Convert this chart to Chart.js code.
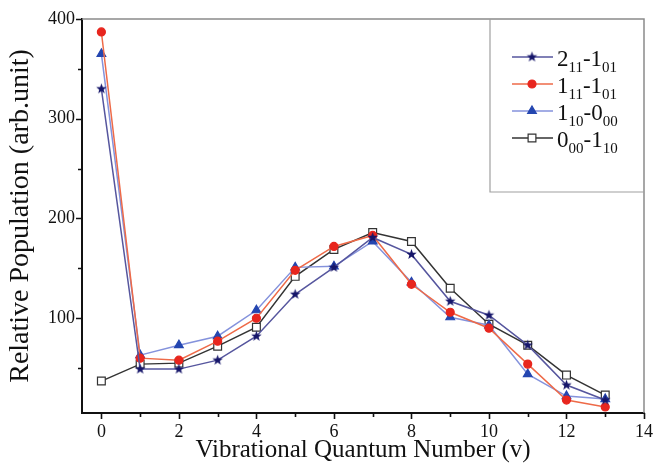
<!DOCTYPE html>
<html>
<head>
<meta charset="utf-8">
<script src="https://cdn.jsdelivr.net/npm/chart.js"></script>
<style>
  html, body { margin: 0; padding: 0; background: #fff; }
  #wrap { width: 655px; height: 463px; }
</style>
</head>
<body>
<div id="wrap"><canvas id="popChart" width="655" height="463"></canvas></div>
<script>
// vibrational quantum numbers
var levels = [0, 1, 2, 3, 4, 5, 6, 7, 8, 9, 10, 11, 12, 13];

// relative populations
var pop211_101 = [330, 49, 49, 58, 82, 124, 151, 181, 164, 117, 103, 73, 33, 18];
var pop111_101 = [387, 60, 58, 77, 100, 148, 172, 183, 134, 106, 90, 54, 18, 11];
var pop110_000 = [365, 63, 73, 82, 108, 151, 152, 177, 136, 101, 93, 44, 22, 19];
var pop000_110 = [37, 54, 55, 72, 91, 142, 169, 186, 177, 130, 94, 73, 43, 23];

// legend labels: alternating normal / subscript parts
var labelParts = [
    ['2', '11', '-1', '01'],
    ['1', '11', '-1', '01'],
    ['1', '10', '-0', '00'],
    ['0', '00', '-1', '10']
];

var xTicks = [0, 1, 2, 3, 4, 5, 6, 7, 8, 9, 10, 11, 12, 13, 14];
var yTicks = [50, 100, 150, 200, 250, 300, 350, 400];

var SERIF = '"Liberation Serif", "DejaVu Serif", serif';

function starImage(r, color) {
    var c = document.createElement('canvas');
    var s = Math.ceil(r * 2 + 2);
    c.width = s; c.height = s;
    var g = c.getContext('2d');
    g.fillStyle = color;
    g.beginPath();
    for (var i = 0; i < 10; i++) {
        var rad = i % 2 === 0 ? r : r * 0.42;
        var a = -Math.PI / 2 + i * Math.PI / 5;
        var px = s / 2 + rad * Math.cos(a), py = s / 2 + rad * Math.sin(a);
        if (i === 0) g.moveTo(px, py); else g.lineTo(px, py);
    }
    g.closePath();
    g.fill();
    return c;
}
var starPt = starImage(5.5, '#16166a');

function series(label, data, line, style, radius, fill, border) {
    return {
        label: label,
        data: levels.map(function (v, i) { return { x: v, y: data[i] }; }),
        borderColor: line,
        borderWidth: 1.5,
        pointStyle: style,
        pointRadius: radius,
        pointBackgroundColor: fill,
        pointBorderColor: border,
        pointBorderWidth: 1.2,
        tension: 0
    };
}

var datasets = [
    series('2_11-1_01', pop211_101, '#56569e', starPt, 5.5, '#16166a', '#16166a'),
    series('1_11-1_01', pop111_101, '#ee6a48', 'circle', 4, '#e8261e', '#e8261e'),
    series('1_10-0_00', pop110_000, '#8492dc', 'triangle', 5, '#2446b0', '#2446b0'),
    series('0_00-1_10', pop000_110, '#333333', 'rect', 5.5, '#ffffff', '#333333')
];

var frameAndLegend = {
    id: 'frameAndLegend',
    afterDraw: function (chart) {
        var ctx = chart.ctx, a = chart.chartArea;
        var xs = chart.scales.x, ys = chart.scales.y;
        ctx.save();
        // top / right frame
        ctx.strokeStyle = '#8a8a8a';
        ctx.lineWidth = 1.5;
        ctx.beginPath();
        ctx.moveTo(a.left, a.top); ctx.lineTo(a.right, a.top); ctx.lineTo(a.right, a.bottom);
        ctx.stroke();

        // tick marks
        ctx.strokeStyle = '#111';
        ctx.lineWidth = 1.6;
        ctx.beginPath();
        xTicks.forEach(function (v) {
            var px = Math.round(xs.getPixelForValue(v)) + 0.5;
            var len = v % 2 === 0 ? 6 : 4;
            ctx.moveTo(px, a.bottom); ctx.lineTo(px, a.bottom + len);
        });
        yTicks.forEach(function (v) {
            var py = Math.round(ys.getPixelForValue(v)) + 0.5;
            var len = v % 100 === 0 ? 6 : 4;
            ctx.moveTo(a.left, py); ctx.lineTo(a.left - len, py);
        });
        ctx.stroke();

        // legend box
        var bx = 490, by = a.top, bw = a.right - 490, bh = 173;
        ctx.strokeStyle = '#a0a0a0';
        ctx.lineWidth = 1.2;
        ctx.beginPath();
        ctx.moveTo(bx, by); ctx.lineTo(bx, by + bh); ctx.lineTo(bx + bw, by + bh);
        ctx.stroke();

        chart.data.datasets.forEach(function (ds, i) {
            var y = 57 + i * 27;
            ctx.strokeStyle = ds.borderColor;
            ctx.lineWidth = 1.5;
            ctx.beginPath();
            ctx.moveTo(512, y); ctx.lineTo(553, y);
            ctx.stroke();
            ctx.fillStyle = ds.pointBackgroundColor;
            ctx.strokeStyle = ds.pointBorderColor;
            ctx.lineWidth = ds.pointBorderWidth;
            Chart.helpers.drawPoint(ctx, {
                pointStyle: ds.pointStyle,
                radius: ds.pointRadius,
                borderWidth: ds.pointBorderWidth,
                rotation: 0
            }, 532, y);
            // text
            var tx = 557;
            ctx.fillStyle = '#111';
            ctx.textBaseline = 'alphabetic';
            labelParts[i].forEach(function (part, k) {
                if (k % 2 === 0) {
                    ctx.font = '23px ' + SERIF;
                    ctx.fillText(part, tx, y + 9);
                } else {
                    ctx.font = '15px ' + SERIF;
                    ctx.fillText(part, tx, y + 15);
                }
                tx += ctx.measureText(part).width;
            });
        });
        ctx.restore();
    }
};

new Chart(document.getElementById('popChart'), {
    type: 'line',
    data: { datasets: datasets },
    plugins: [frameAndLegend],
    options: {
        responsive: false,
        animation: false,
        layout: { padding: { top: 19, right: 10, left: 0, bottom: 0 } },
        plugins: { legend: { display: false }, tooltip: { enabled: false } },
        scales: {
            x: {
                type: 'linear',
                min: -0.5,
                max: 14,
                afterBuildTicks: function (s) { s.ticks = xTicks.map(function (v) { return { value: v }; }); },
                afterFit: function (s) { s.height = 50; },
                grid: { drawOnChartArea: false, color: 'rgba(0,0,0,0)', tickLength: 6 },
                border: { display: true, color: '#111', width: 2 },
                ticks: {
                    autoSkip: false,
                    maxRotation: 0,
                    padding: 2,
                    color: '#111',
                    font: { family: SERIF, size: 18 },
                    callback: function (v) { return v % 2 === 0 ? String(v) : ''; }
                },
                title: {
                    display: true,
                    text: 'Vibrational Quantum Number (v)',
                    color: '#111',
                    font: { family: SERIF, size: 25 },
                    padding: { top: 0, bottom: -2 }
                }
            },
            y: {
                type: 'linear',
                min: 5,
                max: 400,
                afterBuildTicks: function (s) { s.ticks = yTicks.map(function (v) { return { value: v }; }); },
                afterFit: function (s) { s.width = 82; },
                grid: { drawOnChartArea: false, color: 'rgba(0,0,0,0)', tickLength: 6 },
                border: { display: true, color: '#111', width: 2 },
                ticks: {
                    autoSkip: false,
                    padding: 1,
                    color: '#111',
                    font: { family: SERIF, size: 18 },
                    callback: function (v) { return v % 100 === 0 ? String(v) : ''; }
                },
                title: {
                    display: true,
                    text: 'Relative Population (arb.unit)',
                    color: '#111',
                    font: { family: SERIF, size: 28 },
                    padding: { top: 4, bottom: 0 }
                }
            }
        }
    }
});
</script>
</body>
</html>
